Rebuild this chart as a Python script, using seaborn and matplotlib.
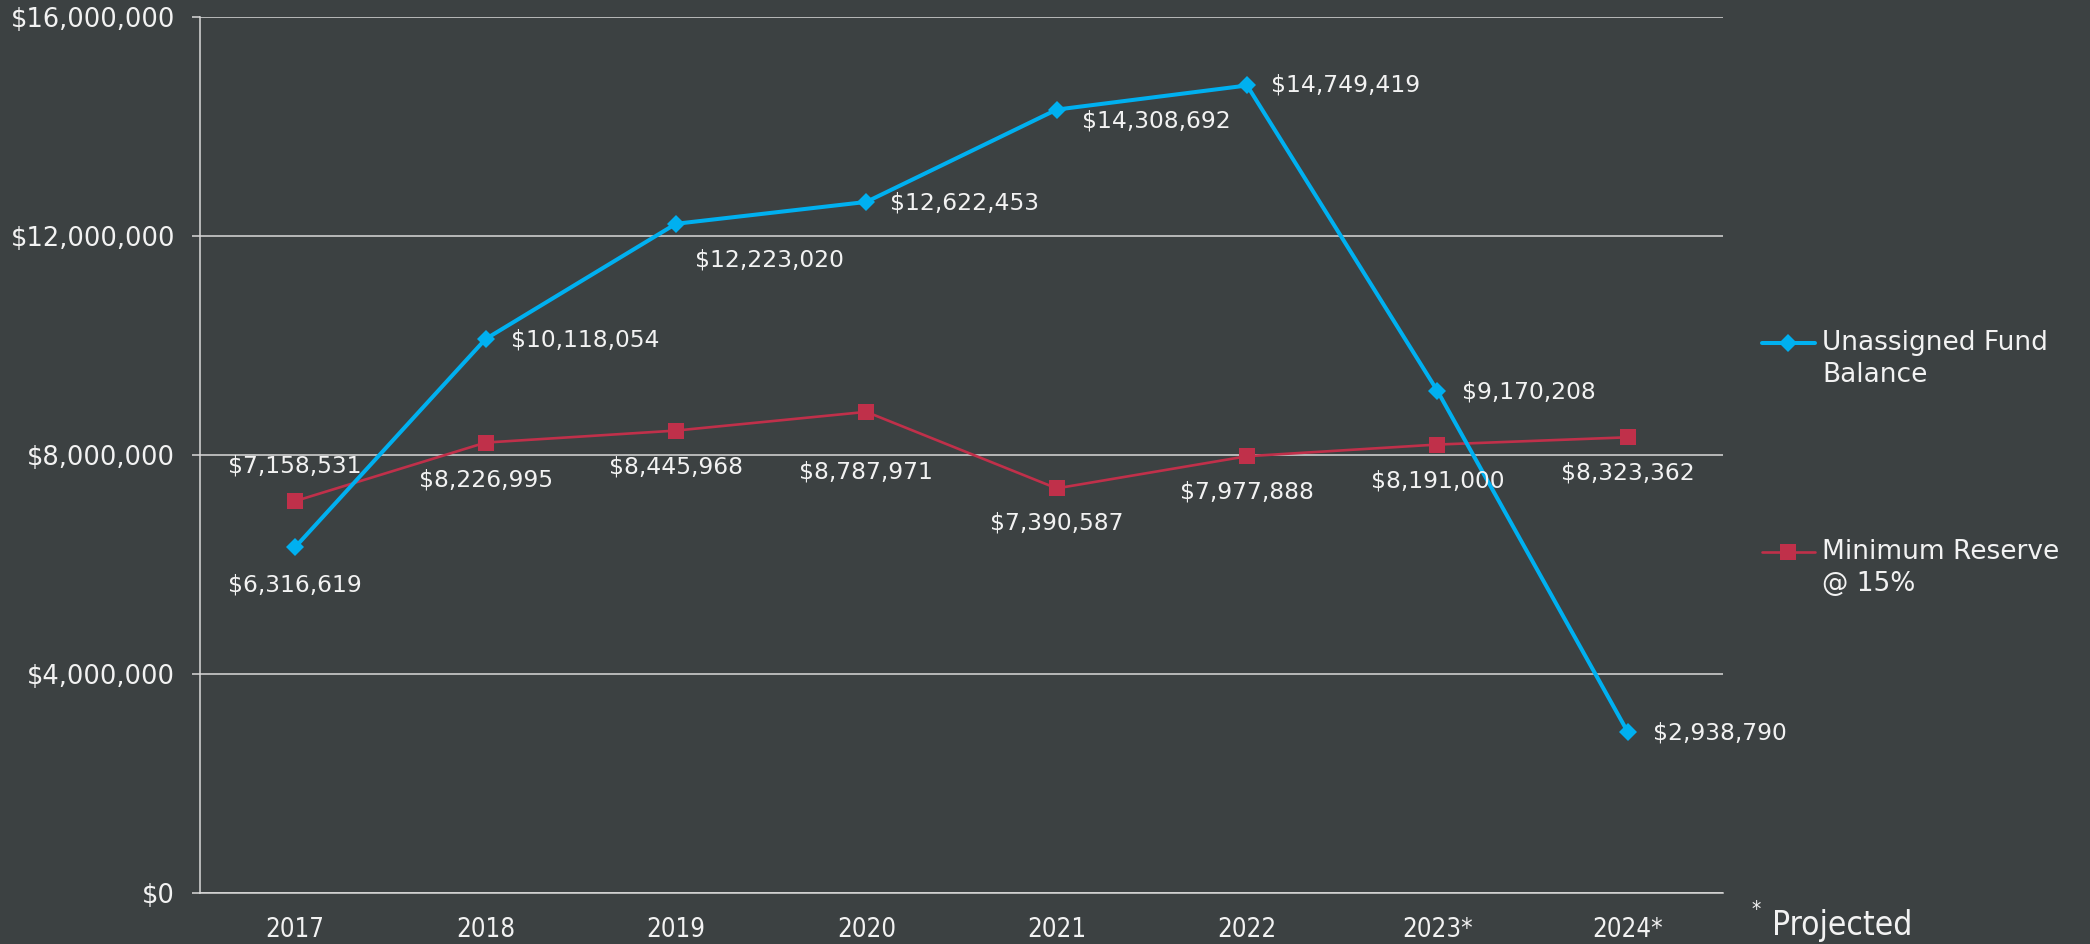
import numpy as np
import pandas as pd
import matplotlib
matplotlib.use("Agg")
from matplotlib import pyplot as plt
from matplotlib.lines import Line2D
import seaborn as sns

years = ["2017", "2018", "2019", "2020", "2021", "2022", "2023*", "2024*"]
unassigned = [6316619, 10118054, 12223020, 12622453, 14308692, 14749419, 9170208, 2938790]
min_reserve = [7158531, 8226995, 8445968, 8787971, 7390587, 7977888, 8191000, 8323362]

# label offsets (points) for each data label: (dx, dy, ha)
blue_offs = [(0, -27, "center"), (18, -1, "left"), (14, -26, "left"), (17, -1, "left"),
             (18, -8, "left"), (17, 0, "left"), (18, -1, "left"), (18, -1, "left")]
red_offs = [(0, 25, "center"), (0, -27, "center"), (0, -26, "center"), (0, -43, "center"),
            (0, -25, "center"), (0, -26, "center"), (0, -26, "center"), (0, -26, "center")]

bg = "#3c4142"
blue = "#00b0f0"
red = "#c0304a"
txt = "#f2f2f2"
line_c = "#d9d9d9"

sns.set_style("dark", {"axes.facecolor": bg, "figure.facecolor": bg})
plt.rcParams["font.family"] = ["DejaVu Sans"]

df = pd.DataFrame({"year": years, "x": np.arange(len(years)),
                   "unassigned": unassigned, "reserve": min_reserve})

fig = plt.figure(figsize=(20.9, 9.44), dpi=100)
fig.patch.set_facecolor(bg)
ax = fig.add_axes([200 / 2090, 1 - 893 / 944, 1523 / 2090, 876 / 944])
ax.set_facecolor(bg)

sns.lineplot(data=df, x="x", y="reserve", ax=ax, color=red, lw=1.9,
             marker="s", markersize=11.3, markeredgewidth=0, zorder=3)
sns.lineplot(data=df, x="x", y="unassigned", ax=ax, color=blue, lw=2.9,
             marker="D", markersize=9.2, markeredgewidth=0, zorder=4)

ax.set_xlim(-0.5, 7.5)
ax.set_ylim(0, 16e6)
ax.set_yticks(np.arange(0, 16e6 + 1, 4e6))
ax.set_yticklabels([f"${v:,.0f}" for v in np.arange(0, 16e6 + 1, 4e6)],
                   fontsize=18.5, color=txt)
ax.set_xticks(np.arange(len(years)))
ax.set_xticklabels(years, fontsize=18.5, color=txt, fontstretch="condensed")
ax.set_xticks(np.arange(-0.5, len(years)), minor=True)
ax.tick_params(axis="x", which="major", length=0, pad=17)
ax.tick_params(axis="x", which="minor", length=6.5, width=1.1, color=line_c, direction="out")
ax.tick_params(axis="y", length=6, width=1.1, color=line_c, pad=12, left=True)
ax.set_xlabel("")
ax.set_ylabel("")

ax.yaxis.grid(True, color=line_c, lw=1.1)
ax.xaxis.grid(False)
for s in ["top", "right"]:
    ax.spines[s].set_visible(False)
for s in ["left", "bottom"]:
    ax.spines[s].set_visible(True)
    ax.spines[s].set_color(line_c)
    ax.spines[s].set_linewidth(1.1)

for i, v in enumerate(unassigned):
    dx, dy, ha = blue_offs[i]
    ax.annotate(f"${v:,}", (i, v), xytext=(dx, dy), textcoords="offset points",
                ha=ha, va="center", fontsize=16.8, color=txt, zorder=5)
for i, v in enumerate(min_reserve):
    dx, dy, ha = red_offs[i]
    ax.annotate(f"${v:,}", (i, v), xytext=(dx, dy), textcoords="offset points",
                ha=ha, va="center", fontsize=16.8, color=txt, zorder=5)

# legend drawn at the right, Excel style (marker aligned with first text line)
W, H = 2090, 944
legend_items = [("Unassigned Fund\nBalance", blue, "D", 9.2, 2.9, 343),
                ("Minimum Reserve\n@ 15%", red, "s", 11.3, 1.9, 552)]
for label, col, mk, ms, lw, ypx in legend_items:
    y = 1 - ypx / H
    fig.add_artist(Line2D([1762 / W, 1815 / W], [y, y], color=col, lw=lw,
                          transform=fig.transFigure))
    fig.add_artist(Line2D([1788 / W], [y], color=col, marker=mk, markersize=ms,
                          markeredgewidth=0, transform=fig.transFigure))
    fig.text(1822 / W, 1 - (ypx - 13) / H, label, ha="left", va="top",
             fontsize=19, color=txt, linespacing=1.3)

fig.text(1751 / W, 1 - 910 / H, "*", ha="left", va="center", fontsize=15, color=txt,
         fontstretch="condensed")
fig.text(1772 / W, 1 - 925 / H, "Projected", ha="left", va="center", fontsize=24,
         color=txt, fontstretch="condensed")

fig.savefig("out.png", dpi=100, facecolor=bg)
